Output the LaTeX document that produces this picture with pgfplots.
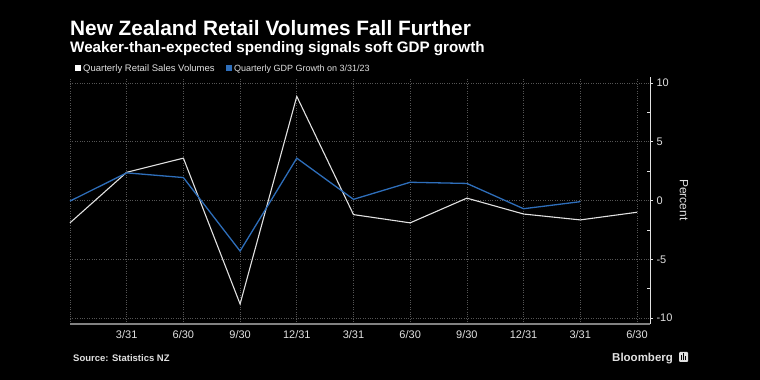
\documentclass[border=0pt]{standalone}
\usepackage{pgfplots}
\pgfplotsset{compat=1.18}
\usepackage{fontspec}
\setmainfont{Liberation Sans}
\definecolor{gdpblue}{RGB}{46,110,186}
\definecolor{gridgray}{RGB}{85,85,85}
\definecolor{txt}{RGB}{225,225,225}
\definecolor{axgray}{RGB}{130,130,130}
\begin{document}
\begin{tikzpicture}[x=1pt,y=1pt]
\fill[black] (0,0) rectangle (760,380);
\node[anchor=base west, text=white, font=\fontsize{20.8}{22}\selectfont\bfseries, inner sep=0] at (70,344) {New Zealand Retail Volumes Fall Further};
\node[anchor=base west, text=white, font=\fontsize{15.2}{17}\selectfont\bfseries, inner sep=0] at (70,327) {Weaker-than-expected spending signals soft GDP growth};
\fill[white] (75,309) rectangle (81,315);
\node[anchor=base west, text=txt, font=\fontsize{9.5}{11}\selectfont, inner sep=0] at (83,308) {Quarterly Retail Sales Volumes};
\fill[gdpblue] (226,309) rectangle (232,315);
\node[anchor=base west, text=txt, font=\fontsize{9.0}{11}\selectfont, inner sep=0] at (234,308) {Quarterly GDP Growth on 3/31/23};
\begin{axis}[
  at={(70pt,56pt)}, anchor=south west,
  width=580pt, height=247pt, scale only axis,
  xmin=0, xmax=10.23, ymin=-10.5, ymax=10.5,
  axis y line*=right, axis x line*=bottom,
  y axis line style={color=txt, line width=0.8pt},
  x axis line style={color=axgray, line width=1.5pt},
  xtick={0,...,10},
  xticklabels={,3/31,6/30,9/30,12/31,3/31,6/30,9/30,12/31,3/31,6/30},
  ytick={-10,-5,0,5,10},
  yticklabels={-10,-5,0,5,10},
  minor ytick={-7.5,-2.5,2.5,7.5},
  xmajorgrids, ymajorgrids,
  major grid style={color=gridgray, dotted, line width=0.6pt},
  tick label style={text=txt, font=\fontsize{11}{12}\selectfont},
  major tick length=3pt, minor tick length=3pt,
  ytick align=outside, xtick align=outside,
  tick style={color=txt, line width=0.6pt},
  x tick style={draw=none},
  minor y tick style={xshift=-3pt},
  xticklabel style={yshift=0pt},
  clip=false,
]
\addplot[color=txt, line width=1.1pt, mark=none] coordinates {
(0,-1.9) (1,2.4) (2,3.6) (3,-8.8) (4,8.85) (5,-1.2) (6,-1.9) (7,0.2) (8,-1.15) (9,-1.65) (10,-1.0)};
\addplot[color=gdpblue, line width=1.3pt, mark=none] coordinates {
(0,-0.05) (1,2.35) (2,1.95) (3,-4.3) (4,3.6) (5,0.1) (6,1.55) (7,1.45) (8,-0.7) (9,-0.1)};
\end{axis}
\node[rotate=-90, text=txt, font=\fontsize{12}{14}\selectfont] at (684,180) {Percent};
\node[anchor=base west, text=txt, font=\fontsize{9.5}{11}\selectfont\bfseries, inner sep=0] at (73,19) {Source: Statistics NZ};
\node[anchor=base west, text=txt, font=\fontsize{11.5}{14}\selectfont\bfseries, inner sep=0] at (612,18) {Bloomberg};
\fill[txt, rounded corners=1pt] (679,18) rectangle (688,28);
\fill[black] (681,20) rectangle (682,25);
\fill[black] (683,20) rectangle (684,26.5);
\fill[black] (685,20) rectangle (686,24);
\end{tikzpicture}
\end{document}
